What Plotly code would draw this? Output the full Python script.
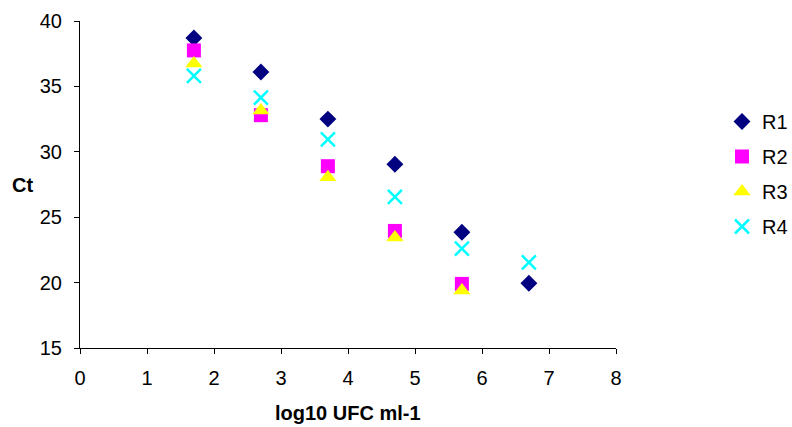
import plotly.graph_objects as go

x_vals = [1.7, 2.7, 3.7, 4.7, 5.7, 6.7]
r1 = [38.7, 36.1, 32.5, 29.05, 23.85, 19.95]
r2 = [37.75, 32.8, 28.9, 23.95, 19.9]
r3 = [36.75, 33.15, 28.05, 23.45, 19.4]
r4 = [35.8, 34.15, 30.95, 26.55, 22.6, 21.55]

FONT = "Arial, Liberation Sans, sans-serif"

series = [
    ("R1", x_vals, r1, dict(symbol="diamond", size=13, color="#000080")),
    ("R2", x_vals[:5], r2, dict(symbol="square", size=14, color="#FF00FF")),
    ("R3", x_vals[:5], r3, dict(symbol="triangle-up", size=15, color="#FFFF00")),
    ("R4", x_vals, r4, dict(symbol="x-thin", size=14, color="#00FFFF",
                            line=dict(color="#00FFFF", width=2.5))),
]

fig = go.Figure()
for name, xs, ys, mk in series:
    fig.add_trace(go.Scatter(x=xs, y=ys, mode="markers", name=name, marker=mk,
                             legendgroup=name))

axis_common = dict(showgrid=False, zeroline=False, showline=True, linecolor="black",
                   linewidth=1, ticks="outside", ticklen=5, tickcolor="black",
                   automargin=False,
                   tickfont=dict(family=FONT, size=20, color="black"))

fig.update_xaxes(range=[0, 8], dtick=1, tick0=0, ticklabelstandoff=7, **axis_common)
fig.update_yaxes(range=[15, 40], dtick=5, tick0=15, ticklabelstandoff=8, **axis_common)

fig.add_annotation(text="<b>Ct</b>", xref="paper", yref="paper",
                   x=(22 - 80) / 536, y=0.5, xanchor="center", yanchor="middle",
                   showarrow=False, font=dict(family=FONT, size=20, color="black"))
fig.add_annotation(text="<b>log10 UFC ml-1</b>", xref="paper", yref="paper",
                   x=0.5, y=-(413 - 348) / (348 - 21), xanchor="center", yanchor="middle",
                   showarrow=False, font=dict(family=FONT, size=20, color="black"))

fig.update_layout(
    width=792, height=427,
    margin=dict(l=80, r=176, t=21, b=79),
    paper_bgcolor="white", plot_bgcolor="white",
    legend=dict(xref="container", yref="container",
                x=722 / 792, y=1 - 102 / 427, xanchor="left", yanchor="top",
                font=dict(family=FONT, size=20, color="black"),
                tracegroupgap=6, bgcolor="rgba(0,0,0,0)"),
    showlegend=True,
)

fig.write_html("out.html")
